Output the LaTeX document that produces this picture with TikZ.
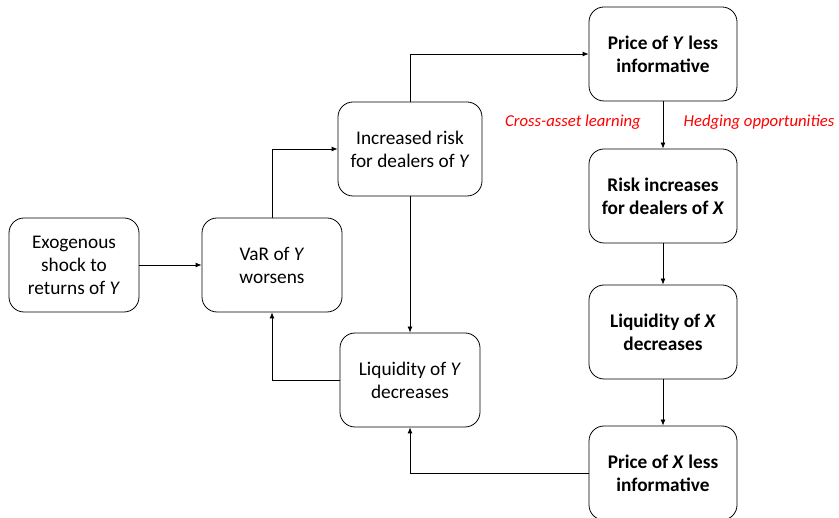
\documentclass[tikz,border=0pt]{standalone}
\usepackage{fontspec}
\setmainfont{Carlito}
\usetikzlibrary{arrows.meta}

\tikzset{
    box/.style={draw=black, line width=0.8pt, rounded corners=15pt, align=center,
        minimum height=94pt, inner sep=0pt, font=\fontsize{19.3}{23}\selectfont},
    flow/.style={line width=0.8pt, -{Latex[length=6pt,width=5pt]}},
    channel/.style={text=red, font=\fontsize{16.7}{20}\selectfont\itshape}
}

\begin{document}
\begin{tikzpicture}[x=1pt, y=-1pt]
    \useasboundingbox (0,0) rectangle (839,518);
    \clip (0,0) rectangle (839,518);
    % left part: asset Y
    \node[box, minimum width=130pt] at (74,265) (exog) {Exogenous\\shock to\\returns of \textit{Y}};
    \node[box, minimum width=140pt] at (272,265) (var) {VaR of \textit{Y}\\worsens};
    \node[box, minimum width=144pt] at (410,149) (riskY) {Increased risk\\for dealers of \textit{Y}};
    \node[box, minimum width=140pt] at (410,380) (liqY) {Liquidity of \textit{Y}\\decreases};
    % right column: asset X
    \node[box, minimum width=148pt] at (663,54) (priceY) {\textbf{Price of \textit{Y} less}\\\textbf{informative}};
    \node[box, minimum width=148pt] at (663,196) (riskX) {\textbf{Risk increases}\\\textbf{for dealers of \textit{X}}};
    \node[box, minimum width=148pt] at (663,332) (liqX) {\textbf{Liquidity of \textit{X}}\\\textbf{decreases}};
    \node[box, minimum width=148pt] at (663,473) (priceX) {\textbf{Price of \textit{X} less}\\\textbf{informative}};
    % channels
    \node[channel] at (573,122) (cross) {Cross-asset learning};
    \node[channel] at (759,122) (hedge) {Hedging opportunities};

    \draw[flow] (exog) -- (var);
    \draw[flow] (var.north) |- (riskY.west);
    \draw[flow] (riskY.north) |- (priceY.west);
    \draw[flow] (riskY) -- (liqY);
    \draw[flow] (liqY.west) -| (var.south);
    \draw[flow] (priceY) -- (riskX);
    \draw[flow] (riskX) -- (liqX);
    \draw[flow] (liqX) -- (priceX);
    \draw[flow] (priceX.west) -| (liqY.south);
\end{tikzpicture}
\end{document}
